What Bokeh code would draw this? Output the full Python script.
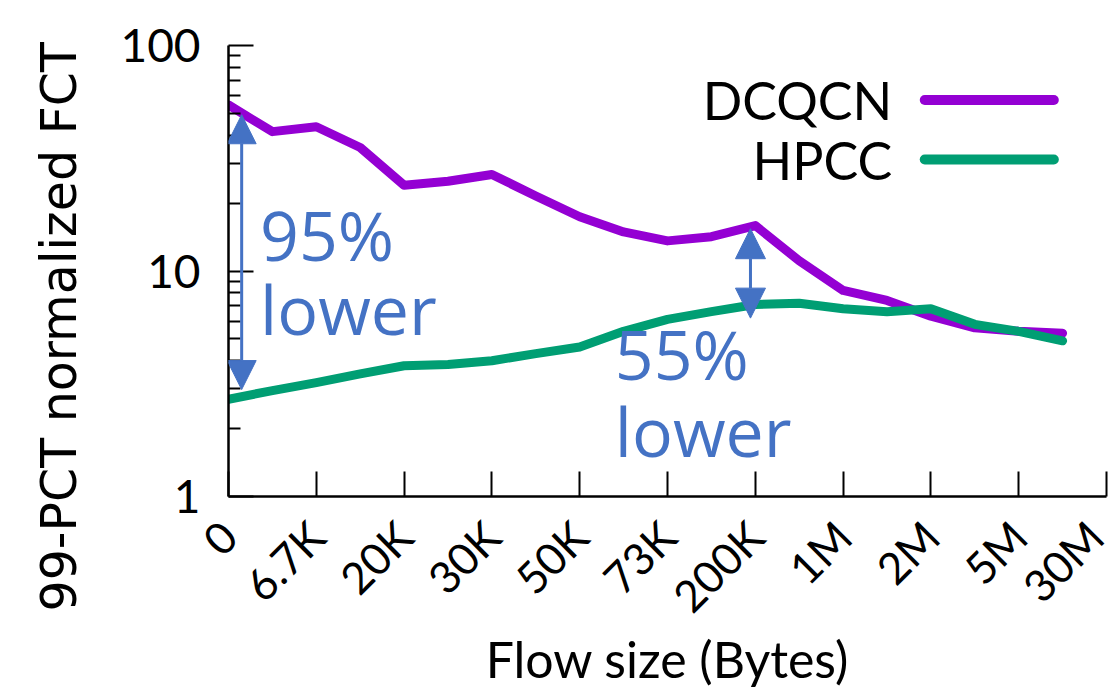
import math
from bokeh.plotting import figure
from bokeh.models import Range1d, FixedTicker, Label, Arrow, NormalHead, Title
from bokeh.embed import file_html
from bokeh.resources import INLINE

# ---------------- data ----------------
flow_labels = ["0", "6.7K", "20K", "30K", "50K", "73K", "200K", "1M", "2M", "5M", "30M"]
# samples are taken every half step between the labelled flow sizes
dcqcn = [54.5, 41.5, 43.6, 35.3, 24.0, 25.0, 26.8, 21.5, 17.4, 14.9,
         13.6, 14.2, 15.9, 11.1, 8.2, 7.4, 6.3, 5.6, 5.4, 5.3]
hpcc = [2.7, 2.95, 3.2, 3.5, 3.8, 3.85, 4.0, 4.3, 4.6, 5.4,
        6.1, 6.6, 7.1, 7.2, 6.8, 6.6, 6.8, 5.8, 5.4, 4.9]
y_ticks = [1, 10, 100]
y_minor = [2, 3, 4, 5, 6, 7, 8, 9, 20, 30, 40, 50, 60, 70, 80, 90]
series_names = ["DCQCN", "HPCC"]
notes = ["95%", "55%"]

# ---------------- styles ----------------
PURPLE = "#9400D3"
GREEN = "#009E73"
BLUE = "#4472C4"
TICK_FONT = "Lato"
H = 692

sample_x = [i * 0.5 for i in range(len(dcqcn))]

p = figure(width=1113, height=H, output_backend="svg", toolbar_location=None,
           y_axis_type="log",
           x_range=Range1d(0, len(flow_labels) - 1), y_range=Range1d(1, 100),
           min_border_left=228, min_border_right=7, min_border_top=45,
           min_border_bottom=H - 500)
p.outline_line_color = None
p.grid.visible = False

# data lines
p.line(sample_x, dcqcn, line_color=PURPLE, line_width=9, line_join="round", line_cap="round")
p.line(sample_x, hpcc, line_color=GREEN, line_width=9, line_join="round", line_cap="round")

# x axis
xa = p.xaxis[0]
xa.ticker = FixedTicker(ticks=list(range(len(flow_labels))))
xa.major_label_overrides = {i: lab for i, lab in enumerate(flow_labels)}
xa.major_label_orientation = math.pi / 4
xa.major_label_text_font = TICK_FONT
xa.major_label_text_font_size = "44px"
xa.major_label_text_color = "black"
xa.major_label_standoff = 32
xa.major_tick_in = 25
xa.major_tick_out = 0
xa.minor_tick_line_color = None
xa.axis_line_width = 2.5
xa.major_tick_line_width = 2
xa.axis_label = "Flow size (Bytes)"
xa.axis_label_text_font = TICK_FONT
xa.axis_label_text_font_size = "50px"
xa.axis_label_text_font_style = "normal"
xa.axis_label_text_color = "black"
xa.axis_label_standoff = -14

# y axis
ya = p.yaxis[0]
ya.ticker = FixedTicker(ticks=y_ticks, minor_ticks=y_minor)
ya.major_label_overrides = {t: str(t) for t in y_ticks}
ya.major_label_text_font = TICK_FONT
ya.major_label_text_font_size = "46px"
ya.major_label_text_color = "black"
ya.major_label_standoff = 28
ya.major_tick_in = 25
ya.major_tick_out = 0
ya.minor_tick_in = 12
ya.minor_tick_out = 0
ya.axis_line_width = 2.5
ya.major_tick_line_width = 2
ya.minor_tick_line_width = 2

# y-axis title, shifted down like in the reference
p.add_layout(Title(text="99-PCT normalized FCT", align="left", offset=-115,
                   vertical_align="top", standoff=56,
                   text_font="DejaVu Sans", text_font_size="49px",
                   text_font_style="normal", text_color="black"), "left")

# legend (text left of the sample line)
leg_y = [57.3, 31.2]
for name, col, yy in zip(series_names, [PURPLE, GREEN], leg_y):
    p.add_layout(Label(x=7.56, y=yy, text=name, text_align="right", text_baseline="middle",
                       text_font=TICK_FONT, text_font_size="52px", text_color="black"))
    p.add_layout(Arrow(x_start=7.93, y_start=yy, x_end=9.40, y_end=yy, start=None, end=None,
                       line_color=col, line_width=10, line_cap="round"))

# improvement arrows and notes
arrows = [(0.15, 2.98, 49.3, 29), (5.945, 6.18, 15.4, 30)]
for (ax, y0, y1, hs) in arrows:
    p.add_layout(Arrow(x_start=ax, y_start=y0, x_end=ax, y_end=y1,
                       start=NormalHead(size=hs, fill_color=BLUE, line_color=BLUE),
                       end=NormalHead(size=hs, fill_color=BLUE, line_color=BLUE),
                       line_color=BLUE, line_width=3))

note_pos = [(0.36, 14.5, 6.83), (4.40, 4.30, 1.97)]
for txt, (nx, ya1, ya2) in zip(notes, note_pos):
    for t, yy in [(txt, ya1), ("lower", ya2)]:
        p.add_layout(Label(x=nx, y=yy, text=t, text_align="left", text_baseline="alphabetic",
                           text_font="Open Sans", text_font_size="68px", text_color=BLUE))

open("out.html", "w").write(file_html(p, INLINE))
